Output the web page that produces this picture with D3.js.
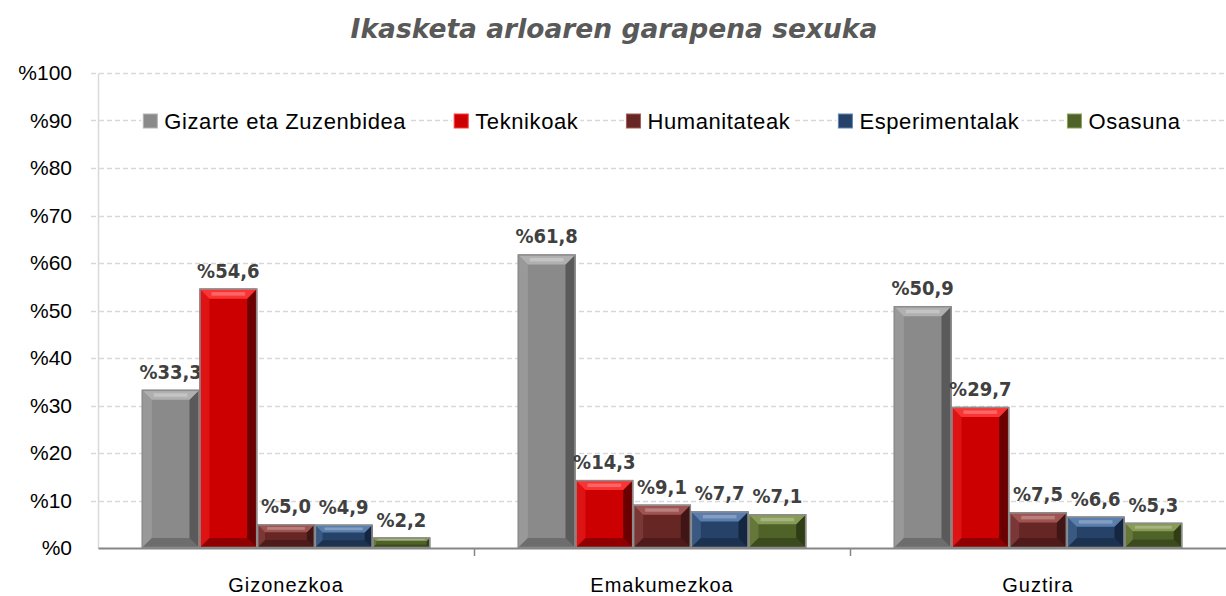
<!DOCTYPE html>
<html>
<head>
<meta charset="utf-8">
<script src="https://cdn.jsdelivr.net/npm/d3@7"></script>
<style>
  body { margin: 0; background: #fff; }
  svg { display: block; }
</style>
</head>
<body>
<svg id="chart" width="1226" height="596"></svg>
<script>
// data
var groups = ["Gizonezkoa", "Emakumezkoa", "Guztira"];
var seriesNames = ["Gizarte eta Zuzenbidea", "Teknikoak", "Humanitateak", "Esperimentalak", "Osasuna"];
var gizarte = [33.3, 61.8, 50.9];
var teknikoak = [54.6, 14.3, 29.7];
var humanitateak = [5.0, 9.1, 7.5];
var esperimentalak = [4.9, 7.7, 6.6];
var osasuna = [2.2, 7.1, 5.3];
var yTicks = [0, 10, 20, 30, 40, 50, 60, 70, 80, 90, 100];

var allSeries = [gizarte, teknikoak, humanitateak, esperimentalak, osasuna];

// face / light / dark for the bevel look
var colors = [
  {face: "#8a8a8a", light: "#b4b4b4", dark: "#4a4a4a"},
  {face: "#cc0000", light: "#ff3a3a", dark: "#4a0000"},
  {face: "#652624", light: "#a65a58", dark: "#331010"},
  {face: "#264268", light: "#6185b5", dark: "#0f1e33"},
  {face: "#4f6228", light: "#8ea25c", dark: "#26300f"}
];

var svg = d3.select("#chart");
var margin = {top: 73, right: 0, bottom: 48, left: 98};
var width = 1226 - margin.left - margin.right,
    height = 596 - margin.top - margin.bottom;

var g = svg.append("g").attr("transform", "translate(" + margin.left + "," + margin.top + ")");

var x0 = d3.scaleBand().domain(groups).range([0, width]).padding(0);
var x1 = d3.scaleBand().domain(d3.range(seriesNames.length))
  .range([0, x0.bandwidth()]).paddingInner(0).paddingOuter(0.76);
var y = d3.scaleLinear().domain([0, 100]).range([height, 0]);

function pct(v) { return "%" + v.toFixed(1).replace(".", ","); }

// title
svg.append("text")
  .attr("x", 614).attr("y", 38)
  .attr("text-anchor", "middle")
  .style("font-family", "'DejaVu Sans', Verdana, sans-serif")
  .style("font-weight", "bold").style("font-style", "italic")
  .style("font-size", "26.5px").attr("fill", "#595959")
  .text("Ikasketa arloaren garapena sexuka");

// grid lines
g.append("g").selectAll("line")
  .data(yTicks.filter(function(d){ return d > 0; }))
  .enter().append("line")
  .attr("x1", -7).attr("x2", width)
  .attr("y1", function(d){ return Math.round(y(d)) + 0.5; })
  .attr("y2", function(d){ return Math.round(y(d)) + 0.5; })
  .attr("stroke", "#d9d9d9").attr("stroke-width", 1.3)
  .attr("stroke-dasharray", "5,3");

// y axis
var yAxis = g.append("g")
  .call(d3.axisLeft(y).tickValues(yTicks).tickSize(0).tickPadding(26)
    .tickFormat(function(d){ return "%" + d; }));
yAxis.select(".domain").attr("stroke", "#d9d9d9").attr("stroke-width", 1.5);
yAxis.selectAll("text")
  .style("font-family", "'Liberation Sans', Arial, sans-serif")
  .style("font-size", "21px").attr("fill", "#000");

// bars
var bars = g.append("g").selectAll("g.grp")
  .data(groups).enter().append("g")
  .attr("transform", function(d){ return "translate(" + x0(d) + ",0)"; });

bars.each(function(grp, gi) {
  var sel = d3.select(this);
  allSeries.forEach(function(vals, si) {
    var v = vals[gi];
    var bx = x1(si), bw = x1.bandwidth();
    var by = y(v), bh = y(0) - y(v);
    var c = colors[si];
    var b = Math.min(10, bh / 3);
    var bar = sel.append("g");
    bar.append("rect").attr("x", bx).attr("y", by).attr("width", bw).attr("height", bh)
      .attr("fill", c.face);
    // left bevel
    bar.append("polygon").attr("fill", c.light).attr("opacity", 0.35)
      .attr("points", [[bx, by], [bx + b, by + b], [bx + b, by + bh - b], [bx, by + bh]].join(" "));
    // right bevel
    bar.append("polygon").attr("fill", c.dark).attr("opacity", 0.75)
      .attr("points", [[bx + bw, by], [bx + bw - b, by + b], [bx + bw - b, by + bh - b], [bx + bw, by + bh]].join(" "));
    // bottom bevel
    bar.append("polygon").attr("fill", c.dark).attr("opacity", 0.45)
      .attr("points", [[bx, by + bh], [bx + b, by + bh - b], [bx + bw - b, by + bh - b], [bx + bw, by + bh]].join(" "));
    // top bevel
    bar.append("polygon").attr("fill", c.light).attr("opacity", 0.9)
      .attr("points", [[bx, by], [bx + bw, by], [bx + bw - b, by + b], [bx + b, by + b]].join(" "));
    bar.append("rect").attr("x", bx + b + 2).attr("y", by + b * 0.35).attr("width", Math.max(0, bw - 2 * b - 4))
      .attr("height", b * 0.35).attr("fill", "#fff").attr("opacity", 0.25);
    bar.append("rect").attr("x", bx + 0.5).attr("y", by + 0.5).attr("width", bw - 1).attr("height", bh - 1)
      .attr("fill", "none").attr("stroke", "#8c8c8c").attr("stroke-width", 1.5);
    // value label
    sel.append("text")
      .attr("x", bx + bw / 2).attr("y", by - 11)
      .attr("text-anchor", "middle")
      .style("font-family", "'DejaVu Sans Condensed', 'DejaVu Sans', Verdana, sans-serif")
      .style("font-weight", "bold").style("font-size", "20px")
      .attr("fill", "#404040")
      .text(pct(v));
  });
});

// x axis
var xAxis = g.append("g").attr("transform", "translate(0," + height + ")")
  .call(d3.axisBottom(x0).tickSize(0).tickPadding(30));
xAxis.select(".domain").attr("stroke", "#868686").attr("stroke-width", 2);
xAxis.selectAll("text")
  .style("font-family", "'Liberation Sans', Arial, sans-serif")
  .style("font-size", "20px").style("letter-spacing", "1px").attr("fill", "#000");
g.append("g").selectAll("line")
  .data(groups.slice(1)).enter().append("line")
  .attr("x1", function(d){ return Math.round(x0(d)) + 0.5; })
  .attr("x2", function(d){ return Math.round(x0(d)) + 0.5; })
  .attr("y1", height).attr("y2", height + 8)
  .attr("stroke", "#868686").attr("stroke-width", 1.5);

// legend
var legend = svg.append("g").attr("transform", "translate(0,121)");
var items = legend.selectAll("g").data(seriesNames).enter().append("g");
items.append("rect").attr("class", "bg").attr("fill", "#fff");
items.append("rect").attr("class", "sw")
  .attr("x", 0).attr("y", -7).attr("width", 14).attr("height", 14)
  .attr("fill", function(d, i){ return colors[i].face; })
  .attr("stroke", function(d, i){ return colors[i].light; }).attr("stroke-width", 1);
items.append("text")
  .attr("x", 21).attr("y", 8)
  .style("font-family", "'Liberation Sans', Arial, sans-serif")
  .style("font-size", "22px").style("letter-spacing", "0.6px").attr("fill", "#000")
  .text(function(d){ return d; });

var widths = [];
items.each(function() {
  widths.push(21 + d3.select(this).select("text").node().getComputedTextLength());
});
var gap = 48;
var total = d3.sum(widths) + gap * (widths.length - 1);
var start = margin.left + width / 2 - total / 2;
var cx = start;
items.each(function(d, i) {
  d3.select(this).attr("transform", "translate(" + cx + ",0)");
  d3.select(this).select(".bg").attr("x", -2).attr("y", -12).attr("width", widths[i] + 4).attr("height", 24);
  cx += widths[i] + gap;
});
</script>
</body>
</html>
